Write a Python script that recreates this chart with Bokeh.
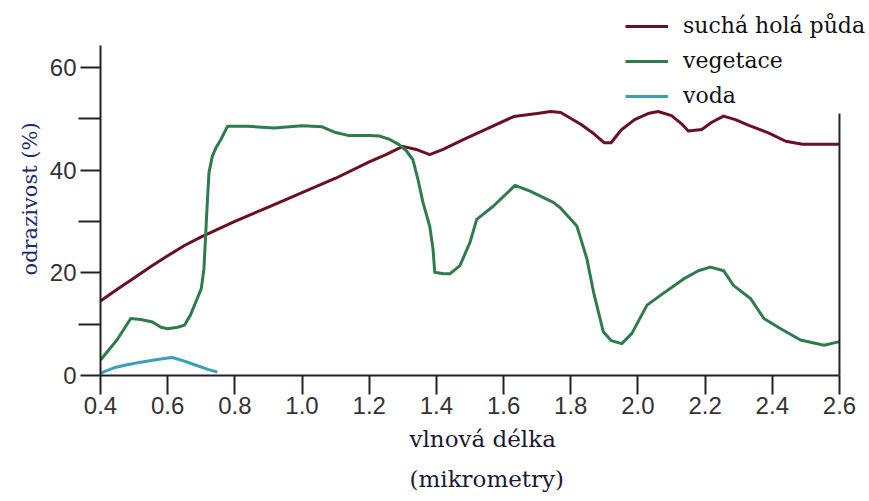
from bokeh.plotting import figure
from bokeh.models import (Range1d, FixedTicker, PrintfTickFormatter,
                          Legend, LegendItem, Title)
from bokeh.embed import file_html
from bokeh.resources import INLINE

# ---- data (wavelength in micrometres, reflectance in %) ----
soil_x = [0.40, 0.45, 0.50, 0.55, 0.60, 0.65, 0.70, 0.75, 0.80, 0.90, 1.00, 1.10,
          1.20, 1.25, 1.30, 1.34, 1.38, 1.42, 1.48, 1.55, 1.63, 1.70, 1.74, 1.77,
          1.83, 1.87, 1.90, 1.92, 1.95, 1.99, 2.03, 2.06, 2.10, 2.13, 2.15, 2.19,
          2.22, 2.255, 2.29, 2.33, 2.39, 2.44, 2.49, 2.60]
soil_y = [14.5, 16.8, 19.0, 21.2, 23.3, 25.3, 27.0, 28.5, 30.0, 32.8, 35.6, 38.4,
          41.6, 43.0, 44.6, 44.0, 43.0, 44.0, 45.9, 48.0, 50.4, 51.0, 51.4, 51.2,
          48.9, 47.0, 45.3, 45.3, 47.8, 49.8, 51.0, 51.4, 50.6, 49.0, 47.6, 47.9,
          49.3, 50.5, 49.8, 48.7, 47.2, 45.6, 45.0, 45.0]

veg_x = [0.40, 0.45, 0.49, 0.52, 0.555, 0.58, 0.60, 0.63, 0.65, 0.668, 0.685, 0.70,
         0.708, 0.713, 0.718, 0.723, 0.733, 0.745, 0.758, 0.778, 0.838, 0.917, 1.00,
         1.06, 1.10, 1.14, 1.20, 1.231, 1.26, 1.29, 1.31, 1.33, 1.345, 1.36, 1.38,
         1.39, 1.395, 1.42, 1.44, 1.47, 1.50, 1.52, 1.57, 1.634, 1.679, 1.748, 1.768,
         1.80, 1.818, 1.83, 1.848, 1.868, 1.897, 1.92, 1.952, 1.982, 2.027, 2.067,
         2.136, 2.18, 2.216, 2.255, 2.285, 2.335, 2.375, 2.425, 2.484, 2.554, 2.60]
veg_y = [3.0, 7.0, 11.1, 10.9, 10.4, 9.4, 9.1, 9.4, 9.8, 11.8, 14.5, 16.9,
         20.8, 27.3, 33.7, 39.5, 42.7, 44.5, 45.9, 48.5, 48.5, 48.2, 48.6,
         48.4, 47.3, 46.7, 46.7, 46.6, 46.0, 44.9, 43.8, 42.0, 38.2, 33.7, 29.1,
         24.6, 20.1, 19.8, 19.8, 21.4, 25.9, 30.4, 33.0, 37.0, 35.9, 33.7, 32.7,
         30.4, 29.1, 26.6, 22.7, 16.2, 8.5, 6.8, 6.2, 8.2, 13.7, 15.6,
         18.8, 20.4, 21.1, 20.4, 17.5, 15.0, 11.1, 9.1, 6.9, 5.9, 6.6]

water_x = [0.40, 0.44, 0.48, 0.52, 0.56, 0.60, 0.614, 0.65, 0.68, 0.72, 0.748]
water_y = [0.45, 1.5, 2.1, 2.6, 3.0, 3.4, 3.5, 2.8, 2.1, 1.2, 0.65]

x_ticks = [0.4, 0.6, 0.8, 1.0, 1.2, 1.4, 1.6, 1.8, 2.0, 2.2, 2.4, 2.6]
y_ticks = [0, 20, 40, 60]
y_minor = [10, 30, 50]

x_axis_span = (0.4, 2.6)      # extent of the drawn x axis
y_axis_span = (0, 64.2)       # extent of the drawn y axis
right_edge_top = 51.0         # top of the right-hand frame line

labels = ["suchá holá půda", "vegetace", "voda"]
colors = ["#6a1020", "#2e7b4c", "#3aa0b8"]
x_title = "vlnová délka\n(mikrometry)"
y_title = "odrazivost (%)"

AX = "#222222"

p = figure(width=869, height=501, output_backend="svg", toolbar_location=None,
           x_range=Range1d(0.4, 2.6894), y_range=Range1d(0, 73.0),
           min_border_left=100, min_border_right=0, min_border_top=0,
           min_border_bottom=126)
p.outline_line_color = None
p.xgrid.visible = False
p.ygrid.visible = False
p.background_fill_color = "white"
p.border_fill_color = "white"

r_soil = p.line(soil_x, soil_y, line_color=colors[0], line_width=3, line_join="round")
r_veg = p.line(veg_x, veg_y, line_color=colors[1], line_width=3, line_join="round")
r_water = p.line(water_x, water_y, line_color=colors[2], line_width=3, line_join="round")

# right-hand frame line
p.segment(x0=[x_axis_span[1]], y0=[y_axis_span[0]], x1=[x_axis_span[1]], y1=[right_edge_top],
          line_color=AX, line_width=2)

# x axis
xa = p.xaxis[0]
xa.bounds = x_axis_span
xa.ticker = FixedTicker(ticks=x_ticks, minor_ticks=[])
xa.formatter = PrintfTickFormatter(format="%.1f")
xa.axis_line_color = AX
xa.axis_line_width = 2
xa.major_tick_line_color = AX
xa.major_tick_line_width = 2
xa.major_tick_out = 19
xa.major_tick_in = 0
xa.minor_tick_line_color = None
xa.major_label_text_font = "Liberation Sans"
xa.major_label_text_font_size = "24px"
xa.major_label_text_color = "#333333"
xa.major_label_standoff = 2

# y axis
ya = p.yaxis[0]
ya.bounds = y_axis_span
ya.ticker = FixedTicker(ticks=y_ticks, minor_ticks=y_minor)
ya.axis_line_color = AX
ya.axis_line_width = 2
ya.major_tick_line_color = AX
ya.major_tick_line_width = 2
ya.major_tick_out = 20
ya.major_tick_in = 0
ya.minor_tick_line_color = AX
ya.minor_tick_line_width = 2
ya.minor_tick_out = 22
ya.minor_tick_in = 0
ya.major_label_text_font = "Liberation Sans"
ya.major_label_text_font_size = "24px"
ya.major_label_text_color = "#333333"
ya.major_label_standoff = 2

# axis titles
p.add_layout(Title(text=y_title, align="left", offset=100,
                   text_font="DejaVu Serif", text_font_size="21px",
                   text_font_style="normal", text_color="#1c2a70", standoff=10), "left")
p.add_layout(Title(text=x_title, align="left", offset=309, text_line_height=1.55,
                   text_font="DejaVu Serif", text_font_size="23px",
                   text_font_style="normal", text_color="#1a1a33", standoff=16), "below")

legend = Legend(items=[LegendItem(label=labels[0], renderers=[r_soil]),
                       LegendItem(label=labels[1], renderers=[r_veg]),
                       LegendItem(label=labels[2], renderers=[r_water])],
                location=(525, 267), border_line_color=None,
                background_fill_alpha=0.0,
                padding=0, margin=0, spacing=10,
                glyph_width=43, glyph_height=20, label_height=20, label_standoff=15,
                label_text_font="DejaVu Serif", label_text_font_size="22px",
                label_text_color="#111111")
p.add_layout(legend)

open("out.html", "w").write(file_html(p, INLINE))
